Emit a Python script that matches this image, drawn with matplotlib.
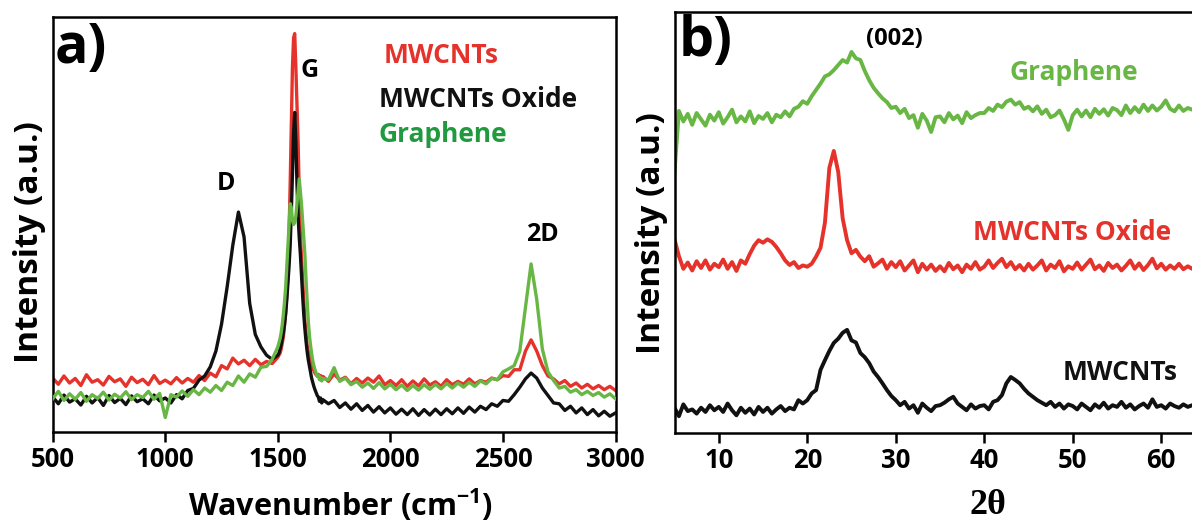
import numpy as np
import matplotlib
matplotlib.use("Agg")
import matplotlib.pyplot as plt

plt.rcParams['font.family'] = ['Open Sans', 'DejaVu Sans']
plt.rcParams['font.weight'] = 'bold'
plt.rcParams['mathtext.fontset'] = 'custom'
plt.rcParams['mathtext.rm'] = 'Open Sans:bold'
plt.rcParams['mathtext.bf'] = 'Open Sans:bold'
plt.rcParams['mathtext.default'] = 'rm'

# ---------------- Panel a) Raman data ----------------
raman_x = np.concatenate([np.arange(500, 1501, 25),
                          np.arange(1505, 1701, 5),
                          np.arange(1725, 3001, 25)])

mwcnt_raman_a = [13.0, 11.5, 13.5, 11.8, 12.9, 11.2, 13.8, 12.0, 12.6, 11.3,
                 13.4, 12.1, 12.8, 11.0, 13.2, 11.9, 12.7, 11.4, 13.6, 11.7,
                 12.5, 11.6, 13.1, 11.8, 12.9, 12.0, 13.6, 12.4, 14.2, 13.3,
                 16.0, 15.2, 17.8, 16.4, 17.3, 16.0, 17.5, 16.2, 17.0, 16.5, 18.0]
mwcnt_raman_b = [18.5, 19.0, 20.0, 21.5, 23.0, 26.0, 29.0, 33.0, 38.0, 48.0,
                 60.0, 74.0, 88.0, 95.0, 96.0, 88.0, 79.0, 70.0, 58.0, 48.0,
                 42.0, 37.0, 32.0, 27.0, 24.0, 21.0, 19.5, 18.0, 17.0, 16.0,
                 15.3, 14.8, 14.2, 13.8, 13.5, 13.9, 13.0, 13.6, 12.8, 13.4]
mwcnt_raman_c = [12.2, 14.0, 12.5, 13.2, 11.6, 12.9, 11.8, 13.0, 12.0, 13.5,
                 11.4, 12.4, 11.2, 12.6, 11.0, 12.3, 11.1, 12.8, 11.3, 12.1,
                 11.0, 12.6, 11.4, 12.2, 11.5, 12.8, 11.6, 12.4, 12.0, 13.0,
                 12.6, 13.6, 13.4, 15.0, 15.0, 19.5, 22.2, 19.5, 16.0, 13.5,
                 12.8, 11.6, 12.4, 11.0, 11.8, 10.6, 11.5, 10.4, 11.2, 10.2,
                 11.0, 10.0]

oxide_raman_a = [8.5, 6.8, 8.9, 7.2, 8.0, 6.5, 8.6, 7.0, 8.3, 6.4,
                 8.8, 7.1, 8.1, 6.6, 8.7, 7.3, 8.0, 6.8, 8.9, 7.5,
                 8.2, 7.0, 9.0, 8.0, 10.0, 10.5, 12.5, 13.5, 15.7, 19.5,
                 26.0, 35.0, 45.0, 53.0, 47.0, 31.0, 23.5, 20.5, 18.5, 17.5, 18.5]
oxide_raman_b = [19.0, 20.0, 21.0, 22.5, 24.0, 26.0, 28.5, 32.0, 36.0, 40.0,
                 45.0, 53.0, 62.0, 72.0, 77.0, 70.0, 60.0, 52.0, 47.0, 43.0,
                 38.0, 33.0, 28.5, 25.0, 22.0, 19.5, 17.5, 16.0, 14.5, 13.0,
                 12.0, 11.0, 10.2, 9.5, 8.8, 8.4, 7.4, 8.2, 7.0, 7.8]
oxide_raman_c = [6.8, 7.6, 5.9, 7.0, 5.5, 6.8, 5.2, 6.4, 4.8, 6.1,
                 4.6, 5.8, 4.3, 5.5, 4.2, 5.6, 4.0, 5.4, 4.1, 5.5,
                 4.2, 5.6, 4.4, 5.8, 4.5, 6.0, 4.8, 6.2, 5.4, 6.8,
                 6.2, 7.6, 7.4, 9.0, 10.8, 12.8, 14.2, 13.0, 10.6, 8.8,
                 7.0, 6.8, 5.2, 6.2, 4.6, 5.8, 4.2, 5.4, 3.9, 5.0,
                 3.8, 4.6]

graph_raman_a = [8.0, 9.8, 7.6, 9.2, 7.9, 9.5, 7.4, 9.0, 8.1, 9.6,
                 7.7, 9.1, 8.2, 9.7, 7.8, 9.0, 8.3, 9.8, 7.9, 9.3,
                 3.5, 9.0, 8.4, 9.9, 8.6, 10.2, 9.0, 10.6, 9.6, 11.2,
                 10.0, 12.0, 11.2, 13.5, 12.0, 14.0, 13.2, 15.6, 15.8, 17.5, 20.5]
graph_raman_b = [21.5, 22.5, 24.0, 26.0, 28.5, 31.5, 35.0, 40.0, 45.0, 50.0,
                 55.0, 54.0, 51.0, 50.0, 50.5, 52.0, 55.0, 58.0, 61.0, 58.0,
                 55.0, 51.0, 47.0, 43.0, 37.0, 32.0, 27.0, 23.5, 21.0, 19.0,
                 17.2, 16.0, 15.0, 14.2, 13.4, 13.7, 12.6, 13.2, 12.3, 12.9]
graph_raman_c = [12.6, 15.5, 12.2, 13.0, 11.4, 12.2, 10.8, 11.8, 10.5, 11.9,
                 10.4, 11.5, 10.2, 11.3, 10.0, 11.2, 10.1, 11.4, 10.3, 11.5,
                 10.4, 11.7, 10.6, 11.8, 10.8, 12.0, 11.0, 12.3, 11.6, 12.9,
                 12.6, 14.5, 15.2, 16.0, 19.5, 30.0, 40.5, 32.0, 20.0, 14.5,
                 12.4, 10.6, 11.0, 9.6, 10.2, 9.0, 9.8, 8.8, 9.5, 8.4,
                 9.2, 8.0]

mwcnt_raman = np.array(mwcnt_raman_a + mwcnt_raman_b + mwcnt_raman_c)
oxide_raman = np.array(oxide_raman_a + oxide_raman_b + oxide_raman_c)
graph_raman = np.array(graph_raman_a + graph_raman_b + graph_raman_c)

# ---------------- Panel b) XRD data ----------------
xrd_x = np.arange(5.0, 64.01, 0.5)

graph_xrd = [62.0, 76.5, 74.0, 75.8, 73.2, 76.0, 74.5, 73.0, 75.6, 74.2,
             76.2, 73.5, 75.0, 76.8, 73.8, 75.2, 74.0, 76.4, 73.6, 75.3,
             74.6, 76.0, 73.8, 75.6, 75.0, 76.4, 75.2, 77.0, 77.5, 78.8,
             78.2, 80.0, 81.5, 83.0, 84.7, 85.2, 86.2, 87.4, 88.6, 88.0,
             90.5, 89.0, 88.6, 86.0, 83.8, 82.0, 80.7, 79.5, 78.6, 77.2,
             77.5, 76.0, 77.0, 74.8, 75.5, 72.5, 75.8, 74.2, 71.5, 75.0,
             75.2, 73.8, 76.0, 74.5, 75.4, 73.6, 76.2, 74.8, 75.5, 76.0,
             76.0, 77.2, 76.5, 78.0, 77.4, 78.7, 79.2, 78.0, 78.6, 77.0,
             77.5, 76.4, 77.6, 75.8, 76.8, 75.0, 75.5, 76.6, 74.5, 72.0,
             75.5, 76.8, 75.2, 76.6, 75.0, 77.0, 75.8, 76.9, 75.4, 77.2,
             76.7, 75.5, 77.8, 76.0, 77.4, 76.2, 78.0, 76.5, 77.8, 76.6,
             77.5, 79.0, 77.0, 76.4, 77.8, 76.5, 77.2, 76.8, 77.0]

oxide_xrd = [46.0, 42.0, 39.0, 40.5, 38.6, 40.8, 39.2, 41.0, 38.8, 40.2,
             39.4, 41.2, 39.0, 40.6, 38.5, 41.0, 40.2, 42.5, 44.5, 45.8,
             45.2, 46.0, 45.4, 44.2, 42.7, 41.0, 39.9, 40.6, 39.2, 39.8,
             39.5, 40.2, 41.9, 44.0, 50.0, 63.0, 67.0, 62.0, 51.0, 45.8,
             42.7, 43.5, 41.9, 40.8, 42.0, 39.5, 40.3, 41.2, 39.0, 40.6,
             39.4, 40.8, 38.6, 39.8, 41.0, 38.2, 40.2, 38.8, 40.0, 38.5,
             39.6, 38.4, 40.4, 38.9, 39.8, 38.2, 40.0, 39.0, 40.6, 38.8,
             39.5, 41.0, 39.2, 40.4, 41.4, 39.4, 40.6, 38.9, 39.9, 38.6,
             40.2, 38.8, 39.8, 41.0, 38.6, 40.0, 39.2, 40.8, 38.4, 39.6,
             39.0, 40.5, 38.8, 40.0, 41.2, 38.9, 39.8, 38.5, 40.4, 39.2,
             40.0, 38.6, 39.7, 41.0, 39.0, 40.3, 38.7, 39.9, 41.4, 39.1,
             40.2, 38.8, 39.8, 39.0, 40.2, 38.9, 39.6, 39.0, 39.4]

mwcnt_xrd = [6.0, 4.0, 6.8, 5.2, 5.6, 4.6, 6.0, 5.0, 6.6, 5.4,
             6.2, 5.0, 7.0, 5.4, 4.2, 6.0, 4.8, 5.8, 4.4, 6.2,
             5.0, 6.0, 4.6, 5.6, 6.4, 5.2, 6.0, 5.6, 7.8, 7.0,
             7.8, 9.4, 10.2, 15.0, 17.3, 19.5, 21.4, 22.4, 23.8, 24.5,
             22.0, 21.5, 19.0, 18.0, 16.6, 14.6, 13.3, 11.8, 10.2, 8.8,
             7.8, 6.6, 7.4, 5.8, 6.6, 4.8, 7.0, 6.0, 5.2, 6.4,
             6.6, 7.2, 8.0, 8.6, 7.0, 6.2, 5.4, 6.8, 5.8, 6.4,
             6.6, 5.6, 7.4, 7.8, 9.0, 11.8, 13.3, 12.6, 11.8, 10.5,
             9.4, 8.6, 7.8, 7.2, 6.6, 7.4, 6.2, 7.0, 5.8, 6.8,
             6.4, 5.6, 7.0, 6.2, 5.4, 6.8, 6.0, 7.2, 5.8, 6.6,
             6.2, 7.4, 6.0, 6.8, 5.6, 6.4, 7.0, 6.0, 8.0, 6.2,
             6.6, 5.8, 7.0, 6.4, 6.0, 6.8, 6.2, 6.6, 6.4]

raman_ticks = [500, 1000, 1500, 2000, 2500, 3000]
xrd_ticks = [10, 20, 30, 40, 50, 60]

RED = '#e5322b'
BLACK = '#111111'
GREEN = '#68b744'
GREEN_TXT = '#21993f'

W, H = 1192, 521
fig = plt.figure(figsize=(W / 100, H / 100), dpi=100)


def fx(px):
    return px / W


def fy(py):
    return 1 - py / H


ax1 = fig.add_axes([fx(52.7), fy(432), fx(615.5) - fx(52.7), fy(17) - fy(432)])
ax1.plot(raman_x, mwcnt_raman, color=RED, lw=2.4, zorder=2)
ax1.plot(raman_x, oxide_raman, color=BLACK, lw=2.4, zorder=3)
ax1.plot(raman_x, graph_raman, color=GREEN, lw=2.4, zorder=4)
ax1.set_xlim(500, 3000)
ax1.set_ylim(0, 100)
ax1.set_xticks(raman_ticks)
ax1.set_yticks([])

ax2 = fig.add_axes([fx(674.5), fy(433), 60 * 8.85 / W, fy(12) - fy(433)])
ax2.plot(xrd_x, graph_xrd, color=GREEN, lw=2.8)
ax2.plot(xrd_x, oxide_xrd, color=RED, lw=2.8)
ax2.plot(xrd_x, mwcnt_xrd, color=BLACK, lw=2.8)
ax2.set_xlim(5, 65)
ax2.set_ylim(0, 100)
ax2.set_xticks(xrd_ticks)
ax2.set_yticks([])
ax2.spines['right'].set_visible(False)

for ax in (ax1, ax2):
    for s in ax.spines.values():
        s.set_linewidth(1.8)
    ax.tick_params(axis='x', direction='out', length=7, width=1.8,
                   labelsize=18.5, pad=3)
    for lab in ax.get_xticklabels():
        lab.set_fontweight('bold')

# Panel labels
ax1.text(509, 89, 'a)', fontsize=40, fontweight='bold', va='baseline')
ax2.text(5.5, 89.5, 'b)', fontsize=40, fontweight='bold', va='baseline')

# Peak labels (Raman)
ax1.text(1270, 59.8, 'D', fontsize=18, fontweight='bold', ha='center', va='center')
ax1.text(1640, 87, 'G', fontsize=18, fontweight='bold', ha='center', va='center')
ax1.text(2676, 47.5, '2D', fontsize=18, fontweight='bold', ha='center', va='center')

# Legend texts (Raman)
ax1.text(1969, 88.9, 'MWCNTs', color=RED, fontsize=19, fontweight='bold', va='baseline')
ax1.text(1948, 78.3, 'MWCNTs Oxide', color=BLACK, fontsize=19, fontweight='bold', va='baseline')
ax1.text(1948, 69.9, 'Graphene', color=GREEN_TXT, fontsize=19, fontweight='bold', va='baseline')

# XRD labels
ax2.text(26.6, 92.2, '(002)', fontsize=17, fontweight='bold', va='baseline')
ax2.text(42.8, 83.8, 'Graphene', color=GREEN, fontsize=19, fontweight='bold', va='baseline')
ax2.text(38.7, 45.8, 'MWCNTs Oxide', color=RED, fontsize=19, fontweight='bold', va='baseline')
ax2.text(48.8, 12.6, 'MWCNTs', color=BLACK, fontsize=19, fontweight='bold', va='baseline')

# Axis labels
fig.text(fx(341), fy(505), r'Wavenumber (cm$^{-1}$)', fontsize=22,
         fontweight='bold', ha='center', va='center')
fig.text(fx(988), fy(505), '2θ', fontsize=26, fontweight='bold',
         family=['Liberation Serif', 'DejaVu Serif'], ha='center', va='center')
fig.text(fx(30), fy(242), 'Intensity (a.u.)', fontsize=24, fontweight='bold',
         rotation=90, ha='center', va='center')
fig.text(fx(651), fy(233), 'Intensity (a.u.)', fontsize=24, fontweight='bold',
         rotation=90, ha='center', va='center')

fig.savefig('out.png', dpi=100)
